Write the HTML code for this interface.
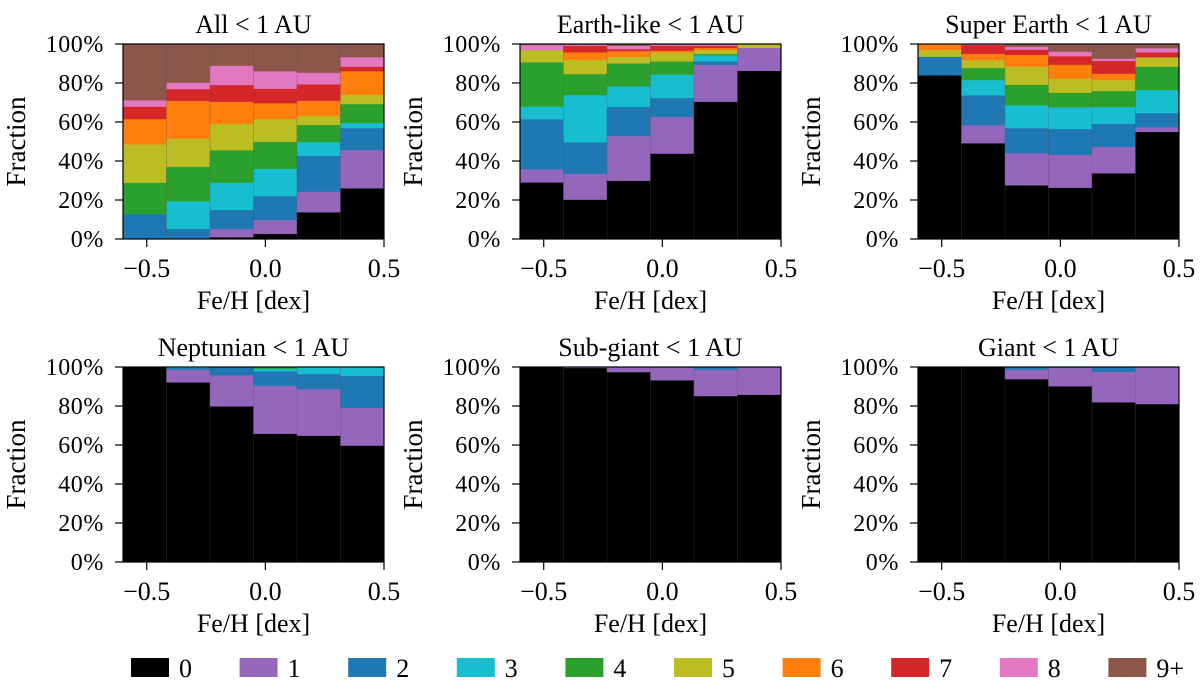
<!DOCTYPE html>
<html><head><meta charset="utf-8"><style>
html,body{margin:0;padding:0;background:#fff;}
svg, svg text{font-family:"Liberation Serif","DejaVu Serif","Noto Serif CJK SC",serif;}
</style></head><body>
<svg id="fig" width="1200" height="683" viewBox="0 0 1200 683" xmlns="http://www.w3.org/2000/svg"></svg>
<script>
const classLabels = ["0","1","2","3","4","5","6","7","8","9+"];
const classColors = ["#000000","#9467bd","#1f77b4","#17becf","#2ca02c","#bcbd22","#ff7f0e","#d62728","#e377c2","#8c564b"];
const binEdges = [-0.6,-0.4167,-0.2333,-0.05,0.1333,0.3167,0.5];
const xTicks = [-0.5,0.0,0.5];
const xTickLabels = ["\u22120.5","0.0","0.5"];
const yTicks = [0,20,40,60,80,100];
const yTickLabels = ["0%","20%","40%","60%","80%","100%"];
const panelTitles = ["All < 1 AU","Earth-like < 1 AU","Super Earth < 1 AU","Neptunian < 1 AU","Sub-giant < 1 AU","Giant < 1 AU"];
// cumulative tops (%) per bin, per class 0..9 (missing values = 100)
const allCum = [[0,0,12.8,12.8,28.9,48.5,61.5,67.9,71.1,100],[0,0.5,5.3,19.3,37.1,51.5,70.8,76.9,80.2,100],[0.9,5.1,14.9,28.9,45.6,59,70.4,79,88.9,100],[2.6,9.7,22,36,49.9,61.5,69.6,77.1,86,100],[13.7,24.3,42.6,49.7,58.5,63.1,70.9,79.3,85.3,100],[26,45.6,56.9,59.5,69.2,74,86,88.4,93.2,100]];
const earthCum = [[29,35.7,61.4,67.9,90.6,96.9,96.9,96.9,99.5,100],[20.2,33.5,49.6,73.8,84.6,91.8,95.7,99.1,99.6,100],[29.9,52.8,67.7,78.3,90.1,93.5,96.4,97.4,99.1,100],[43.8,62.6,72.3,84.3,91.1,95.6,96.6,99.1,99.6,100],[70.4,89.4,91.1,94.2,94.9,96.9,98,99.1,99.6,100],[86.2,98,98,98,98,100]];
const superCum = [[83.9,83.9,93.5,93.5,93.5,96.9,100],[49.1,58.3,73.7,81.5,87.7,91.6,94.9,99.5,100],[27.5,44.1,56.9,68.5,79.1,88.4,94.4,97.1,98.6,100],[26.3,43.1,56.4,67.5,75,82.2,89.4,93.8,96.1,100],[33.7,47.2,59.1,67.7,75.9,81.5,84.8,91.3,92.5,100],[54.9,57.3,64.6,76.4,88.4,93.2,93.2,95.7,97.8,100]];
const neptCum = [[100],[92.1,98.6,99.5,100],[79.8,95.7,100],[65.8,90.4,97.8,99.1,100],[64.8,88.7,96.4,100],[59.7,79,95.4,100]];
const subCum = [[100],[99.5,100],[97.4,100],[93.2,99.7,100],[85.1,98.6,100],[85.8,100]];
const giantCum = [[100],[100],[93.8,98.6,100],[90.1,99.5,100],[81.9,97.6,100],[81,100]];
const panelData = [allCum,earthCum,superCum,neptCum,subCum,giantCum];

const NS="http://www.w3.org/2000/svg";
const svg=document.getElementById('fig');
function mk(tag,attrs,parent){const e=document.createElementNS(NS,tag);for(const k in attrs)e.setAttribute(k,attrs[k]);(parent||svg).appendChild(e);return e;}
const colX=[123,520,918], rowY=[44,367], PW=261, PH=195;
panelData.forEach((data,p)=>{
  const x0=colX[p%3], y0=rowY[Math.floor(p/3)];
  const g=mk('g',{});
  
  
  const xs=v=>x0+(v-(-0.6))/1.1*PW;
  const ys=v=>y0+PH-v/100*PH;
  data.forEach((cum,b)=>{
    let prev=0;
    for(let c=0;c<10;c++){
      const top=c<cum.length?cum[c]:100;
      if(top>prev){
        const r=mk('rect',{x:xs(binEdges[b]),y:ys(top),width:xs(binEdges[b+1])-xs(binEdges[b]),height:ys(prev)-ys(top),fill:classColors[c],stroke:classColors[c],'stroke-width':0.3},g);
        
        
      }
      prev=Math.max(prev,top);
    }
    if(b>0){const l=mk('line',{x1:xs(binEdges[b]),x2:xs(binEdges[b]),y1:y0,y2:y0+PH,stroke:'#555','stroke-width':0.6,'stroke-opacity':0.5},g);
      }
  });
  const fr=mk('rect',{x:x0,y:y0,width:PW,height:PH,fill:'none',stroke:'#000','stroke-width':1.2},g);
  
  yTicks.forEach((t,i)=>{
    mk('line',{x1:x0-8,x2:x0,y1:ys(t),y2:ys(t),stroke:'#000','stroke-width':1.2},g);
    const tx=mk('text',{x:x0-19,y:ys(t)+8,'font-size':24,'letter-spacing':0.6,'text-anchor':'end'},g);tx.textContent=yTickLabels[i];
    
  });
  xTicks.forEach((t,i)=>{
    mk('line',{x1:xs(t),x2:xs(t),y1:y0+PH,y2:y0+PH+8,stroke:'#000','stroke-width':1.2},g);
    const tx=mk('text',{x:xs(t),y:y0+PH+38,'font-size':26,'text-anchor':'middle'},g);tx.textContent=xTickLabels[i];
    
  });
  const ti=mk('text',{x:x0+PW/2,y:y0-11,'font-size':26,'text-anchor':'middle'},g);ti.textContent=panelTitles[p];
  
  const xl=mk('text',{x:x0+PW/2,y:y0+PH+70,'font-size':26,'text-anchor':'middle'},g);xl.textContent='Fe/H [dex]';
  
  const yl=mk('text',{x:0,y:0,'font-size':27,'text-anchor':'middle',transform:'translate('+(x0-98)+','+(y0+PH/2)+') rotate(-90)'},g);yl.textContent='Fraction';
  
});
const lg=mk('g',{});


classLabels.forEach((lab,i)=>{
  const lx=131+i*108.6;
  const e=mk('g',{},lg);
  
  
  mk('rect',{x:lx,y:658,width:38,height:19,fill:classColors[i]},e);
  const t=mk('text',{x:lx+48,y:677,'font-size':26},e);t.textContent=lab;
});
</script>
</body></html>
